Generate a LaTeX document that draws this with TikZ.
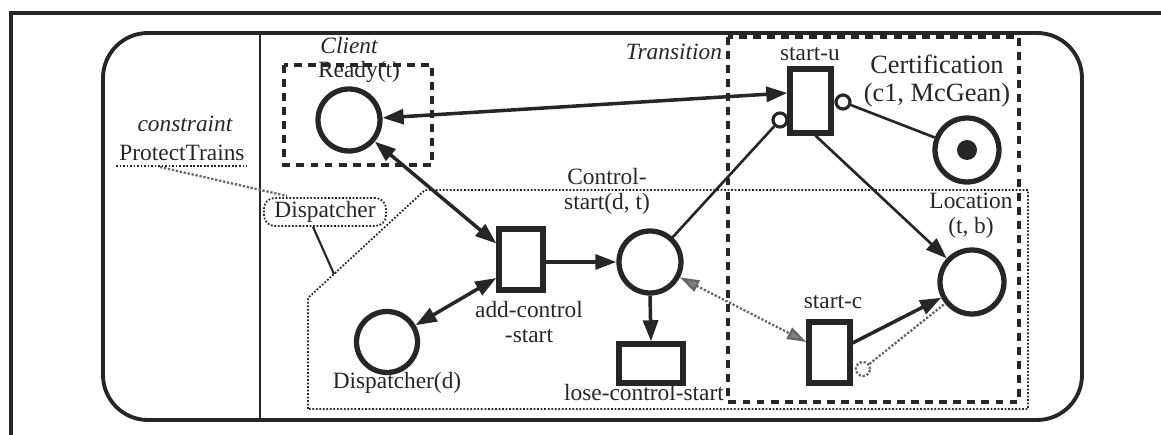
\documentclass[tikz,border=0pt]{standalone}
\usepackage{fontspec}
\setmainfont{Liberation Serif}
\usetikzlibrary{arrows.meta,calc}
\begin{document}
\begin{tikzpicture}[x=0.02cm,y=-0.02cm,
  font=\fontsize{13.3}{14.3}\selectfont,
  ink/.style={draw=black!85},
  place/.style={circle,ink,line width=3pt,minimum size=1.24cm,inner sep=0pt},
  trans/.style={rectangle,ink,line width=3pt,inner sep=0pt},
  smallc/.style={circle,ink,line width=1.8pt,minimum size=0.28cm,inner sep=0pt,fill=white},
  tip/.style={-{Triangle[length=12pt,width=8.5pt]}},
  dtip/.style={{Triangle[length=12pt,width=8.5pt]}-{Triangle[length=12pt,width=8.5pt]}},
  arcline/.style={ink,line width=2pt},
  thinarc/.style={ink,line width=1.5pt},
  greyarc/.style={draw=black!60,line width=1.3pt,densely dotted},
  hatchtip/.style={{Triangle[length=11pt,width=7pt,fill=black!50]}-{Triangle[length=11pt,width=7pt,fill=black!50]}},
  dashbox/.style={ink,line width=1.8pt,dash pattern=on 4.5pt off 3.5pt},
  dotbox/.style={ink,line width=1pt,densely dotted},
  lbl/.style={inner sep=0pt,text=black!85,align=center}
]
\useasboundingbox (0,0) rectangle (1161,435);
% frame
\draw[ink,line width=2.6pt] (11,435) -- (11,13) -- (1161,13);
\draw[ink,line width=2.2pt,rounded corners=0.9cm] (103,33) rectangle (1082,420);
\draw[ink,line width=1.2pt] (260,33) -- (260,420);

% regions
\draw[dashbox] (284,65) rectangle (432,165);
\draw[dashbox] (728,37) rectangle (1019,402);
\draw[dotbox] (308,409) -- (308,298) -- (425,190) -- (1028,190) -- (1028,409) -- cycle;
\coordinate (regedge) at (334,274);

% region labels
\node[lbl,font=\fontsize{13.3}{14.3}\selectfont\itshape] (lclient) at (349,46) {Client};
\node[lbl,font=\fontsize{13.3}{14.3}\selectfont\itshape] (ltrans) at (674,52) {Transition};
\node[lbl,font=\fontsize{13.3}{14.3}\selectfont\itshape] (lconstr) at (185,124) {constraint};
\node[lbl] (lprot) at (182,153) {ProtectTrains};
\coordinate (ulA) at (116,166);
\coordinate (ulB) at (247,166);
\coordinate (ulC) at (160,167);
\draw[dotbox] (ulA) -- (ulB);
\node[draw=black!85,line width=1pt,densely dotted,rounded corners=6pt,minimum width=2.44cm,minimum height=0.56cm,inner sep=1pt,text=black!85] (dtag) at (325,212) {Dispatcher};
\coordinate (dtagtop) at (287,196);
\draw[greyarc] (ulC) -- (dtagtop);
\draw[ink,line width=1.2pt] ($(dtag.south)+(-12,0)$) -- (regedge);

% places
\node[place] (ready) at (349,120) {};
\node[place,minimum size=1.22cm] (disp) at (387,342) {};
\node[place] (ctrl) at (650,262) {};
\node[place,minimum size=1.28cm] (cert) at (967,150) {};
\fill[black!85] (cert.center) circle[radius=10];
\node[place,minimum size=1.28cm] (loc) at (972,282) {};

% transitions
\node[trans,minimum width=0.88cm,minimum height=1.22cm] (addc) at (521,259.5) {};
\node[trans,minimum width=1.28cm,minimum height=0.78cm] (lose) at (651,363.5) {};
\node[trans,minimum width=0.82cm,minimum height=1.28cm] (startu) at (810.5,101) {};
\node[trans,minimum width=0.82cm,minimum height=1.22cm] (startc) at (829.5,352.5) {};

% small circles
\node[smallc] (cu1) at (780,120) {};
\node[smallc] (cu2) at (843,102) {};
\node[smallc,draw=black!60,line width=1.3pt,densely dotted] (cc1) at (863,369) {};

% labels
\node[lbl] (lready) at (359,72) {Ready(t)};
\node[lbl] (ldisp) at (397,383) {Dispatcher(d)};
\node[lbl] (laddc) at (529,322) {add-control\\-start};
\node[lbl] (lctrl) at (607,191) {Control-\\start(d, t)};
\node[lbl] (llose) at (644,393) {lose-control-start};
\node[lbl] (lstartu) at (810,54) {start-u};
\node[lbl,font=\fontsize{15}{16}\selectfont] (lcert) at (937,81) {Certification\\(c1, McGean)};
\node[lbl] (lloc) at (971,216) {Location\\(t, b)};
\node[lbl] (lstartc) at (833,302) {start-c};

% arcs
\draw[arcline,dtip] (ready) -- ($(startu.west)+(0,-8)$);
\draw[arcline,dtip] (ready) -- ($(addc.west)+(0,-16)$);
\draw[arcline,dtip] (disp) -- ($(addc.west)+(0,18.5)$);
\draw[arcline,tip] (addc.east |- ctrl.west) -- (ctrl.west);
\draw[arcline,tip] (ctrl.south) -- (lose.north);
\draw[thinarc] (ctrl) -- (cu1);
\draw[thinarc] (cu2) -- (cert);
\draw[thinarc,tip] ($(startu.south)+(5,0)$) -- (loc);
\draw[arcline,tip] ($(startc.east)+(0,-9.5)$) -- (loc);
\draw[greyarc] (cc1) -- (loc);
\draw[greyarc,hatchtip] (ctrl) -- ($(startc.west)+(0,-10.5)$);
\end{tikzpicture}
\end{document}
